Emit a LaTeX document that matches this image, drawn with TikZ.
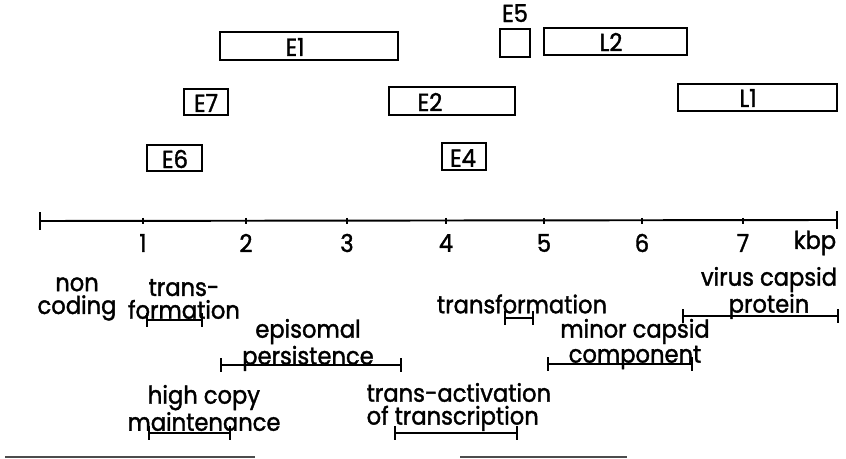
\documentclass[tikz,border=0pt]{standalone}
\usepackage{fontspec}
\setmainfont{Poppins}[FakeBold=1.5, FakeStretch=0.92]
\usetikzlibrary{positioning,fit,arrows}
\tikzstyle{gene} = [draw, rectangle, inner sep=0pt, line width=1.1pt]
\tikzstyle{glabel} = [inner sep=0pt, font=\fontsize{14}{14}\selectfont]
\tikzstyle{func} = [inner sep=0pt, align=center, font=\fontsize{14}{13}\selectfont]
\tikzstyle{fspan} = [|-|, line width=1.1pt, shorten <=-0.5pt, shorten >=-0.5pt]

\begin{document}
\begin{tikzpicture}[x=0.02cm, y=-0.02cm, >=latex', thick]
  \useasboundingbox (0,0) rectangle (846,459);
  % Genes
  \node [gene, fit={(220,32) (398,60)}] (e1) {};
  \node [gene, fit={(184,89) (228,115)}] (e7) {};
  \node [gene, fit={(147,145) (202,171)}] (e6) {};
  \node [gene, fit={(389,87) (515,115)}] (e2) {};
  \node [gene, fit={(442,143) (486,170)}] (e4) {};
  \node [gene, fit={(500,29) (530,57)}] (e5) {};
  \node [gene, fit={(544,28) (687,55)}] (l2) {};
  \node [gene, fit={(678,84) (837,111)}] (l1) {};
  \node [glabel] (e1t) at (295,47) {E1};
  \node [glabel] (e7t) at (206,103) {E7};
  \node [glabel] (e6t) at (175,159) {E6};
  \node [glabel] (e2t) at (430,102) {E2};
  \node [glabel] (e4t) at (463,158) {E4};
  \node [glabel, above=3pt of e5] (e5t) {E5};
  \node [glabel] (l2t) at (611,42) {L2};
  \node [glabel] (l1t) at (748,98) {L1};

  % Axis
  \coordinate (a0) at (40,221);
  \coordinate (a8) at (837,220);
  \draw [line width=1.1pt] (a0) -- (a8);
  \draw [line width=1.1pt] ([yshift=-5pt]a0) -- ([yshift=5pt]a0);
  \draw [line width=1.1pt] ([yshift=-5pt]a8) -- ([yshift=5pt]a8);
  \foreach \k/\px in {1/143,2/246,3/347,4/446,5/544,6/642,7/743} {
    \draw [line width=1.6pt] (\px,218) -- (\px,224);
    \node [glabel] (t\k) at (\px,243) {\k};
  }
  \node [glabel] (kbp) at (815,243) {kbp};

  % Functions
  \node [func] (nc) at (77,299) {non\\coding};
  \node [func] (tf1) at (184,299) {trans-\\formation};
  \node [func] (ep) at (308,345) {episomal\\persistence};
  \node [func] (hc) at (204,408) {high copy\\maintenance};
  \node [func, align=left, anchor=west] (ta) at (366,407) {trans-activation\\of transcription};
  \node [func] (tf2) at (522,304) {transformation};
  \node [func] (mc) at (635,344) {minor capsid\\component};
  \node [func] (vc) at (769,293) {virus capsid\\protein};

  % Spans
  \draw [fspan] (147,320) -- (202,320);
  \draw [fspan] (221,365) -- (401,365);
  \draw [fspan] (149,433) -- (230,433);
  \draw [fspan] (395,433) -- (517,433);
  \draw [fspan] (505,318) -- (533,318);
  \draw [fspan] (548,364) -- (692,364);
  \draw [fspan] (683,316) -- (838,316);

  % Edge of the page
  \draw [black!70, line width=0.8pt] (5,457) -- (255,457);
  \draw [black!70, line width=0.8pt] (460,457) -- (627,457);
\end{tikzpicture}
\end{document}
